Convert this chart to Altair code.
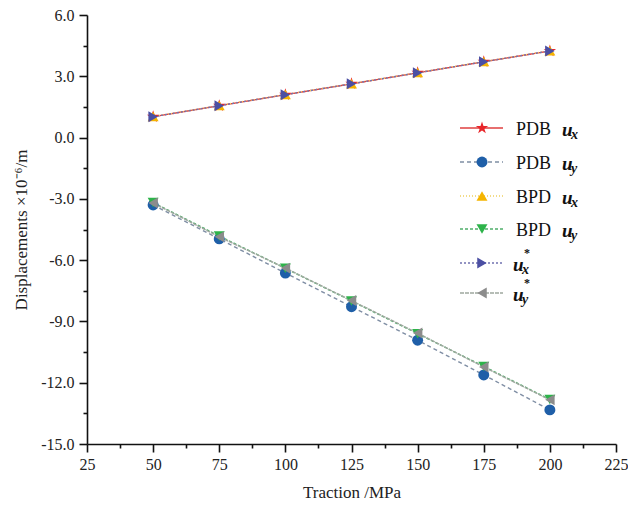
import altair as alt
import pandas as pd

# ---------------- data ----------------
traction = [50, 75, 100, 125, 150, 175, 200]
pdb_ux = [1.02, 1.56, 2.10, 2.63, 3.17, 3.71, 4.24]
pdb_uy = [-3.30, -4.96, -6.63, -8.28, -9.92, -11.62, -13.33]
bpd_ux = [1.03, 1.57, 2.11, 2.64, 3.18, 3.72, 4.25]
bpd_uy = [-3.18, -4.82, -6.40, -8.00, -9.60, -11.20, -12.82]
ux_star = [1.02, 1.56, 2.10, 2.63, 3.17, 3.71, 4.24]
uy_star = [-3.20, -4.86, -6.39, -7.98, -9.57, -11.23, -12.84]

series_keys = ["PDB ux", "PDB uy", "BPD ux", "BPD uy", "ux*", "uy*"]
series_values = [pdb_ux, pdb_uy, bpd_ux, bpd_uy, ux_star, uy_star]
legend_prefix = ["PDB", "PDB", "BPD", "BPD", "", ""]
legend_sub = ["x", "y", "x", "y", "x", "y"]
legend_sup = ["", "", "", "", "*", "*"]

x_ticks = [25, 37.5, 50, 62.5, 75, 87.5, 100, 112.5, 125, 137.5, 150, 162.5,
           175, 187.5, 200, 212.5, 225]
y_ticks = [-15, -13.5, -12, -10.5, -9, -7.5, -6, -4.5, -3, -1.5, 0, 1.5, 3, 4.5, 6]

STAR = ("M0,-1L0.2245,-0.309L0.951,-0.309L0.363,0.118L0.588,0.809L0,0.382"
        "L-0.588,0.809L-0.363,0.118L-0.951,-0.309L-0.2245,-0.309Z")

marker_colors = ["#e8262a", "#1f5fa8", "#f5b400", "#2db34a", "#4b4fa3", "#8c8c8c"]
line_colors = ["#e04040", "#7f8ea4", "#f0d060", "#4fae6a", "#7072b0", "#9fa89f"]
dashes = [[1, 0], [4, 3], [1, 2], [3, 2], [2, 2], [4, 1]]
shapes = [STAR, "circle", "triangle-up", "triangle-down", "triangle-right", "triangle-left"]
sizes = [170, 120, 120, 120, 120, 120]

# legend layout (pixel positions inside the plot area)
leg_rows_y = [113, 147, 181, 214, 248, 278]
leg_sym_x = 395
leg_line_x1, leg_line_x2 = 373, 416
leg_text_x = 429

FONT = "Liberation Serif"

xscale = alt.Scale(domain=[25, 225], nice=False)
yscale = alt.Scale(domain=[-15, 6], nice=False)

frames = []
for k, vals in zip(series_keys, series_values):
    frames.append(pd.DataFrame({"traction": traction, "disp": vals, "series": k}))
df_all = pd.concat(frames, ignore_index=True)

x_axis = alt.Axis(
    values=x_ticks, title="Traction /MPa", orient="bottom",
    labelExpr="datum.value % 25 == 0 ? format(datum.value, 'd') : ''",
    tickSize={"condition": {"test": "datum.value % 25 != 0", "value": 4}, "value": 8},
    titlePadding=12, labelPadding=4, labelFlush=False, labelOverlap=False,
)
y_axis = alt.Axis(
    values=y_ticks, title="Displacements ×10⁻⁶/m", orient="left",
    labelExpr="datum.value % 3 == 0 ? ((datum.value < 0 ? '-' : '') + format(abs(datum.value), '.1f')) : ''",
    tickSize={"condition": {"test": "datum.value % 3 != 0", "value": 4}, "value": 8},
    titlePadding=10, labelPadding=5, labelFlush=False, labelOverlap=False,
)

main_layers = []
for i, k in enumerate(series_keys):
    d = df_all[df_all.series == k]
    base = alt.Chart(d).encode(
        x=alt.X("traction:Q", scale=xscale, axis=x_axis),
        y=alt.Y("disp:Q", scale=yscale, axis=y_axis),
    )
    main_layers.append(base.mark_line(color=line_colors[i], strokeDash=dashes[i],
                                      strokeWidth=1.4))
for i, k in enumerate(series_keys):
    d = df_all[df_all.series == k]
    base = alt.Chart(d).encode(
        x=alt.X("traction:Q", scale=xscale, axis=x_axis),
        y=alt.Y("disp:Q", scale=yscale, axis=y_axis),
    )
    main_layers.append(base.mark_point(shape=shapes[i], filled=True, opacity=1,
                                       color=marker_colors[i], size=sizes[i]))
main = alt.layer(*main_layers)

# legend
leg_layers = []
for i, k in enumerate(series_keys):
    ld = pd.DataFrame({"x1": [leg_line_x1], "x2": [leg_line_x2], "xs": [leg_sym_x],
                       "y": [leg_rows_y[i]]})
    leg_layers.append(alt.Chart(ld).mark_rule(color=line_colors[i], strokeDash=dashes[i],
                                              strokeWidth=1.4).encode(
        x=alt.X("x1:Q", scale=None, axis=None), x2="x2:Q",
        y=alt.Y("y:Q", scale=None, axis=None)))
    leg_layers.append(alt.Chart(ld).mark_point(shape=shapes[i], filled=True, opacity=1,
                                               color=marker_colors[i], size=sizes[i]).encode(
        x=alt.X("xs:Q", scale=None, axis=None),
        y=alt.Y("y:Q", scale=None, axis=None)))

lt = pd.DataFrame({
    "prefix": legend_prefix, "sub": legend_sub, "sup": legend_sup,
    "y": leg_rows_y,
    "ux": [475 if p else 426 for p in legend_prefix],
})
lt["ty"] = lt["y"] + 2
lt["subx"] = lt["ux"] + 9
lt["suby"] = lt["y"] + 7
lt["supx"] = lt["ux"] + 11
lt["supy"] = lt["y"] - 10
lt["px"] = leg_text_x

leg_layers.append(alt.Chart(lt).mark_text(font=FONT, fontSize=18, align="left",
                                          baseline="middle", color="#111").encode(
    x=alt.X("px:Q", scale=None, axis=None), y=alt.Y("ty:Q", scale=None, axis=None),
    text="prefix:N"))
leg_layers.append(alt.Chart(lt).mark_text(text="u", font=FONT, fontSize=19, fontWeight="bold",
                                          fontStyle="italic", align="left", baseline="middle",
                                          color="#111").encode(
    x=alt.X("ux:Q", scale=None, axis=None), y=alt.Y("ty:Q", scale=None, axis=None)))
leg_layers.append(alt.Chart(lt).mark_text(font=FONT, fontSize=14, fontWeight="bold",
                                          fontStyle="italic", align="left", baseline="middle",
                                          color="#111").encode(
    x=alt.X("subx:Q", scale=None, axis=None), y=alt.Y("suby:Q", scale=None, axis=None),
    text="sub:N"))
leg_layers.append(alt.Chart(lt).mark_text(font=FONT, fontSize=12, fontWeight="bold",
                                          align="left", baseline="middle",
                                          color="#111").encode(
    x=alt.X("supx:Q", scale=None, axis=None), y=alt.Y("supy:Q", scale=None, axis=None),
    text="sup:N"))

chart = alt.layer(main, *leg_layers).resolve_scale(
    x="independent", y="independent"
).properties(
    width=529, height=429,
    autosize=alt.AutoSizeParams(type="none"),
    padding={"left": 79, "top": 7, "right": 12, "bottom": 60},
).configure_view(stroke=None).configure_axis(
    grid=False, domainColor="#111", domainWidth=1.6, tickColor="#111", tickWidth=1.6,
    labelFont=FONT, labelFontSize=16, labelColor="#222",
    titleFont=FONT, titleFontSize=17, titleFontWeight="normal", titleColor="#222",
)

chart.save("out.html", embed_options={"renderer": "svg", "actions": False})
